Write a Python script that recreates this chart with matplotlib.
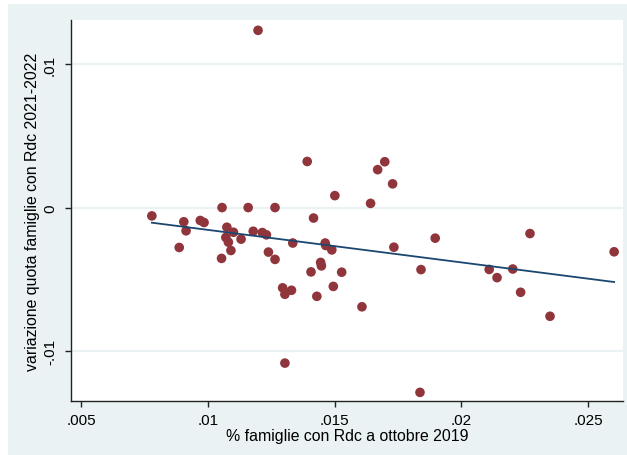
import numpy as np
import matplotlib
matplotlib.use("Agg")
import matplotlib.pyplot as plt
from matplotlib.patches import Rectangle

plt.rcParams['font.family'] = ['Liberation Sans', 'DejaVu Sans']

# share of households with Rdc, Oct 2019 (x) vs change in share 2021-2022 (y), by province
quota_2019 = [
    0.00779, 0.00905, 0.00914, 0.00887, 0.00970, 0.00985, 0.01056, 0.01075,
    0.01071, 0.01081, 0.01091, 0.01054, 0.01101, 0.01131, 0.01159, 0.01198,
    0.01179, 0.01215, 0.01231, 0.01239, 0.01265, 0.01265, 0.01295, 0.01304,
    0.01330, 0.01304, 0.01335, 0.01392, 0.01407, 0.01417, 0.01430, 0.01445,
    0.01448, 0.01463, 0.01465, 0.01489, 0.01495, 0.01501, 0.01528, 0.01608,
    0.01642, 0.01670, 0.01698, 0.01729, 0.01734, 0.01837, 0.01841, 0.01897,
    0.02110, 0.02141, 0.02203, 0.02234, 0.02271, 0.02350, 0.02603,
]
variazione = [
    -0.00058, -0.00099, -0.00162, -0.00278, -0.00090, -0.00104, 0.00000, -0.00137,
    -0.00208, -0.00241, -0.00299, -0.00354, -0.00172, -0.00220, 0.00000, 0.01234,
    -0.00165, -0.00174, -0.00190, -0.00310, 0.00000, -0.00361, -0.00559, -0.00604,
    -0.00576, -0.01083, -0.00247, 0.00321, -0.00448, -0.00073, -0.00618, -0.00382,
    -0.00406, -0.00247, -0.00264, -0.00295, -0.00549, 0.00083, -0.00450, -0.00691,
    0.00029, 0.00264, 0.00319, 0.00165, -0.00276, -0.01287, -0.00432, -0.00213,
    -0.00431, -0.00488, -0.00428, -0.00590, -0.00181, -0.00757, -0.00308,
]

x_ticks = [0.005, 0.01, 0.015, 0.02, 0.025]
x_ticklabels = ['.005', '.01', '.015', '.02', '.025']
y_ticks = [-0.01, 0.0, 0.01]
y_ticklabels = ['-.01', '0', '.01']

x = np.array(quota_2019)
y = np.array(variazione)

fig = plt.figure(figsize=(6.27, 4.56), dpi=100, facecolor='white')
bg = Rectangle((8 / 627, 0), 1 - 8 / 627, 1 - 5 / 456,
               transform=fig.transFigure, facecolor='#EAF2F3',
               edgecolor='none', zorder=-10)
fig.add_artist(bg)

ax = fig.add_axes([71 / 627, 1 - 402 / 456, (623 - 71) / 627, (402 - 21) / 456])
ax.set_zorder(5)
ax.set_facecolor('white')

ax.set_xlim(0.00460, 0.02638)
ax.set_ylim(-0.01347, 0.01306)

for yt in y_ticks:
    ax.axhline(yt, color='#EAF2F3', lw=1.6, zorder=1)

ax.scatter(x, y, s=48, color='#90353B', edgecolors='none', zorder=3)

# linear fit over the observed range
b1, b0 = np.polyfit(x, y, 1)
xf = np.array([x.min(), x.max()])
ax.plot(xf, b0 + b1 * xf, color='#1A476F', lw=1.3, zorder=4)

for s in ['top', 'right']:
    ax.spines[s].set_visible(False)
for s in ['left', 'bottom']:
    ax.spines[s].set_color('#222222')
    ax.spines[s].set_linewidth(1.0)

ax.set_xticks(x_ticks)
ax.set_xticklabels(x_ticklabels)
ax.set_yticks(y_ticks)
ax.set_yticklabels(y_ticklabels, rotation=90, va='center')
ax.tick_params(axis='both', direction='out', length=4.5, width=1, color='#222222',
               labelsize=11, labelcolor='black')
ax.tick_params(axis='x', pad=4)
ax.tick_params(axis='y', pad=5.5)

ax.set_xlabel('% famiglie con Rdc a ottobre 2019', fontsize=11.4, labelpad=1)
ax.set_ylabel('variazione quota famiglie con Rdc 2021-2022', fontsize=11.4, labelpad=2)

fig.savefig('out.png', dpi=100, facecolor='white')
